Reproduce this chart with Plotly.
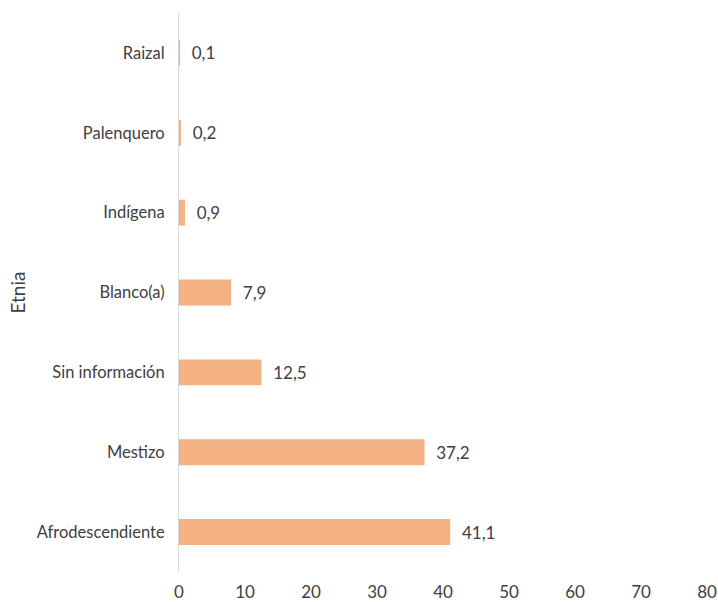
import plotly.graph_objects as go

categories = ["Afrodescendiente", "Mestizo", "Sin información", "Blanco(a)", "Indígena", "Palenquero", "Raizal"]
values = [41.1, 37.2, 12.5, 7.9, 0.9, 0.2, 0.1]
x_ticks = [0, 10, 20, 30, 40, 50, 60, 70, 80]

font = "Lato, 'Open Sans', sans-serif"
txt = "#404040"

fig = go.Figure(go.Bar(
    x=values, y=categories, orientation="h",
    marker=dict(color="#F4B183", line=dict(width=0)),
    texttemplate="\u00a0\u00a0%{x:.1f}", textposition="outside",
    textfont=dict(family=font, size=17, color=txt),
    cliponaxis=False,
))

fig.update_layout(
    width=718, height=602,
    margin=dict(l=179, r=11, t=13, b=30),
    plot_bgcolor="white", paper_bgcolor="white",
    separators=",.",
    bargap=0.675,
    showlegend=False,
    font=dict(family=font, size=17, color=txt),
)
fig.update_xaxes(
    range=[0, 80], tickvals=x_ticks, showgrid=False, zeroline=False,
    showline=False, ticks="", tickfont=dict(family=font, size=17, color=txt),
    ticklabelstandoff=8, automargin=False,
)
fig.update_yaxes(
    categoryorder="array", categoryarray=categories,
    showgrid=False, zeroline=False, showline=True, linecolor="#D9D9D9", linewidth=1,
    ticks="", tickfont=dict(family=font, size=16.5, color=txt),
    ticklabelstandoff=10, automargin=False,
    title=dict(text="Etnia", font=dict(family=font, size=19, color=txt), standoff=6),
)

fig.write_html(
    "out.html",
    config={"displayModeBar": False},
    post_script="document.body.style.margin='0';document.body.style.overflow='hidden';",
)
